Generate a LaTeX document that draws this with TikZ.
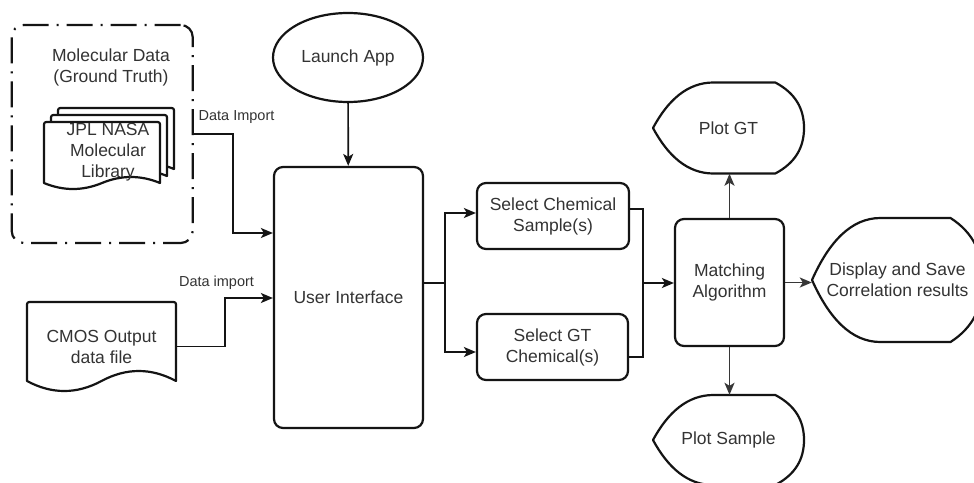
\documentclass[tikz,border=0pt]{standalone}
\usepackage{fontspec}
\setmainfont{Liberation Sans}
\usetikzlibrary{arrows.meta,shapes.geometric}

\definecolor{ink}{RGB}{20,20,20}
\definecolor{txt}{RGB}{51,51,51}
\definecolor{flow}{RGB}{55,55,55}

\tikzset{
  shapeline/.style={draw=ink, line width=2.2pt, line join=round},
  lbl/.style={font=\fontsize{17.5}{21}\selectfont, text=txt, align=center, inner sep=0pt},
  process/.style={lbl, shapeline, rounded corners=9pt},
  ghost/.style={lbl, draw=none},
  wire/.style={draw=ink, line width=1.7pt},
  conn/.style={wire, -{Stealth[length=12pt,width=10pt,inset=3pt]}},
  edgetext/.style={font=\fontsize{14.5}{17}\selectfont, text=txt, inner sep=0pt},
}

% Document sheet with a wavy lower edge: centre x, centre y, half width, half height, wave depth
\newcommand\docoutline[5]{%
  \begin{scope}[shift={(#1,#2)}]
    \filldraw[shapeline, fill=white]
      (-#3,{#4-#5}) -- (-#3,{-#4+5}) .. controls (-#3,-#4) .. ({-#3+5},-#4)
      -- ({#3-5},-#4) .. controls (#3,-#4) .. (#3,{-#4+5})
      -- (#3,{#4-#5})
      .. controls ({0.667*#3},{#4-2.333*#5}) and ({0.333*#3},{#4-2.333*#5}) .. (0,{#4-#5})
      .. controls ({-0.333*#3},{#4+0.333*#5}) and ({-0.667*#3},{#4+0.333*#5}) .. cycle;
  \end{scope}}

% Display outline around a named node: node, half width, half height
\newcommand\dispoutline[3]{%
  \begin{scope}[shift={(#1.center)}]
    \draw[shapeline] (-#2,0)
      .. controls ({-0.8*#2},{-0.62*#3}) and ({-0.54*#2},-#3) .. ({-0.2*#2},-#3)
      -- ({0.62*#2},-#3)
      .. controls ({0.88*#2},{-0.77*#3}) and (#2,{-0.44*#3}) .. (#2,0)
      .. controls (#2,{0.44*#3}) and ({0.88*#2},{0.77*#3}) .. ({0.62*#2},#3)
      -- ({-0.2*#2},#3)
      .. controls ({-0.54*#2},#3) and ({-0.8*#2},{0.62*#3}) .. cycle;
  \end{scope}}

\begin{document}
\begin{tikzpicture}[x=1pt,y=-1pt]
\useasboundingbox[fill=white] (0,0) rectangle (974,482);

% ground-truth container
\node[shapeline, dash pattern=on 26pt off 8pt on 2pt off 8pt, rounded corners=12pt,
      minimum width=181pt, minimum height=218pt, inner sep=0pt] (group) at (102.2,134) {};
\node[lbl] (grouptitle) at (111,67) {Molecular Data\\(Ground Truth)};

% stacked library sheets, back to front
\docoutline{116}{141.5}{58}{33.5}{6}
\docoutline{109}{148.5}{58}{33.5}{6}
\docoutline{102}{155.5}{58}{33.5}{6}
\node[lbl] (library) at (108,152) {JPL NASA\\Molecular\\Library};

% sensor output file
\docoutline{101.5}{346.5}{74.5}{44.5}{10}
\node[ghost, minimum width=149pt, minimum height=89pt] (cmos) at (101.5,346.5) {CMOS Output\\data file};

% main flow
\node[lbl, shapeline, ellipse, minimum width=150pt, minimum height=89pt] (launch) at (348,57.5) {Launch App};
\node[process, minimum width=149pt, minimum height=261pt] (ui) at (348.5,297.5) {User Interface};
\node[process, minimum width=152pt, minimum height=66pt] (sample) at (553,216) {Select Chemical\\Sample(s)};
\node[process, minimum width=151pt, minimum height=66pt] (gtsel) at (552.5,347) {Select GT\\Chemical(s)};
\node[process, minimum width=109pt, minimum height=127pt] (match) at (729.5,282.5) {Matching\\Algorithm};

% outputs
\node[ghost, minimum width=151pt, minimum height=91pt] (plotgt) at (728.5,128) {Plot GT};
\dispoutline{plotgt}{75.5}{45.5}
\node[ghost, minimum width=151pt, minimum height=90pt] (plotsample) at (728.5,440) {Plot Sample};
\dispoutline{plotsample}{75.5}{45}
\node[ghost, minimum width=171pt, minimum height=124pt] (results) at (897.5,280) {Display and Save\\Correlation results};
\dispoutline{results}{85.5}{62}

% imports into the interface
\coordinate (bendA) at (233,233);
\coordinate (bendB) at (225,298);
\draw[conn] (group.east) -| (bendA) -- (bendA -| ui.west);
\draw[conn] (cmos.east) -| (bendB) -- (bendB -| ui.west);
\node[edgetext] (lblA) at (236.5,117) {Data Import};
\node[edgetext] (lblB) at (216.5,283) {Data import};

\draw[conn] (launch) -- (ui);

% split to the two selections
\coordinate (split) at (445,283);
\draw[wire] (split -| ui.east) -- (split);
\draw[conn] (split) |- ([yshift=3pt]sample.west);
\draw[conn] (split) |- ([yshift=-5pt]gtsel.west);

% merge into matching
\coordinate (merge) at (643,283);
\draw[wire] ([yshift=7pt]sample.east) -| (merge) |- ([yshift=-10pt]gtsel.east);
\draw[conn] (merge) -- (merge -| match.west);

% matching outputs
\draw[conn, draw=flow] (match.north) -- (match.north |- plotgt.south);
\draw[conn, draw=flow] (match.south) -- (match.south |- plotsample.north);
\draw[conn, draw=flow] (match.east) -- (match.east -| results.west);
\end{tikzpicture}
\end{document}
